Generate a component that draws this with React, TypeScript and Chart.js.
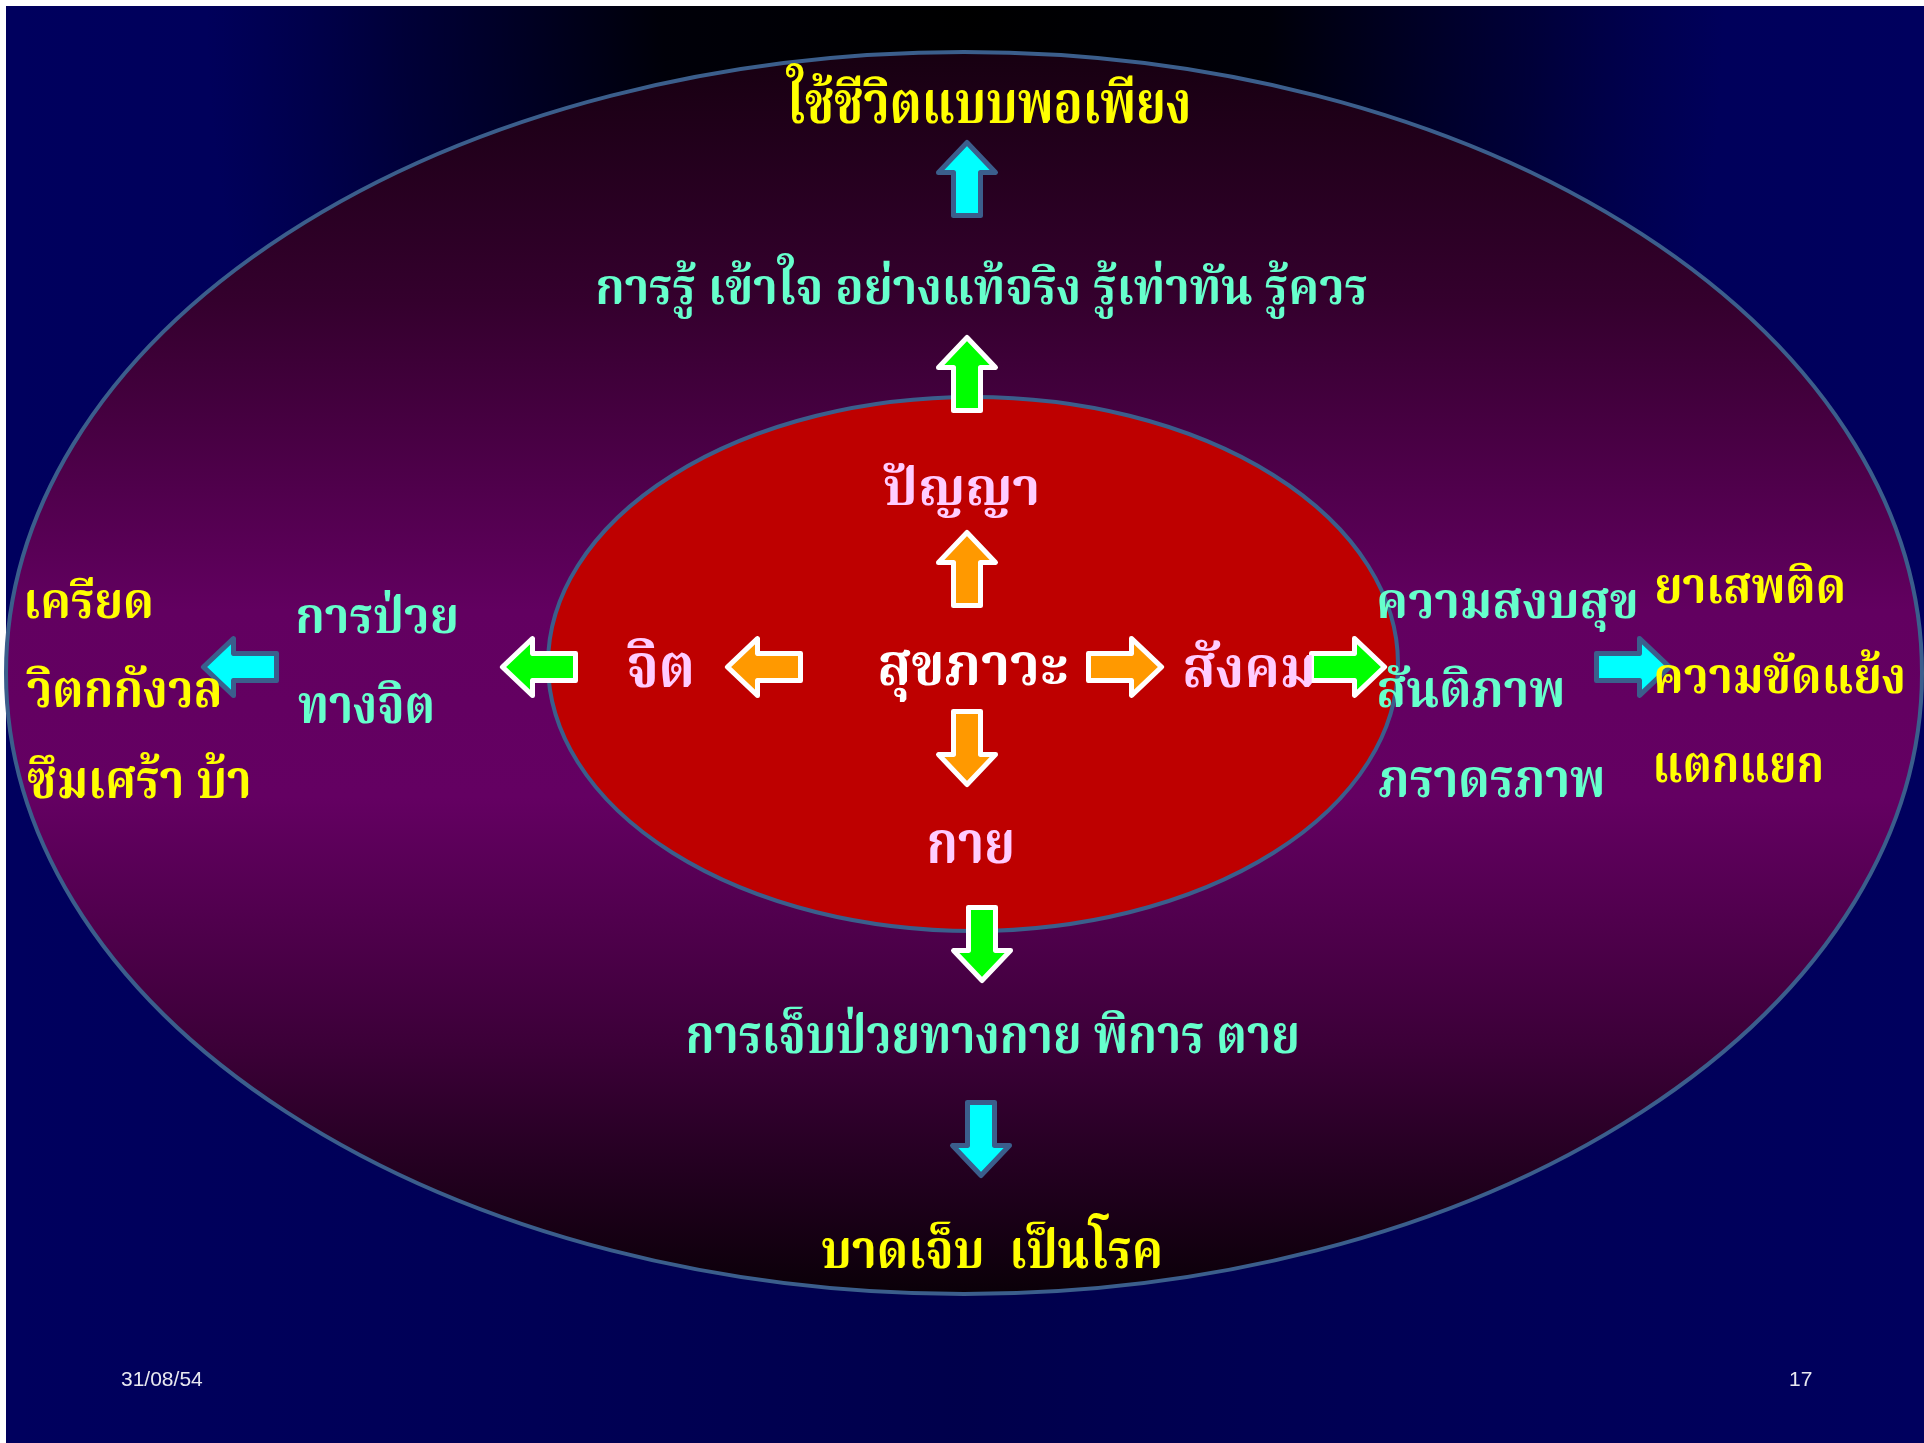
import { useEffect, useRef } from "react";
import { Chart, registerables } from "chart.js";

Chart.register(...registerables);

// ---- diagram space (slide units) ----
const SPACE_W = 1924;
const SPACE_H = 1443;
const slideLeft = 6;
const slideTop = 6;

// ---- ellipses: outer ring, inner core ----
const ellipseCX = [964, 973];
const ellipseCY = [673, 664];
const ellipseRX = [958, 425];
const ellipseRY = [621, 267];

// ---- arrows ----
const cyanArrowX = [967, 240, 1633, 981];
const cyanArrowY = [179, 667, 667, 1139];
const cyanArrowRot = [0, 270, 90, 180];

const greenArrowX = [967, 539, 1348, 982];
const greenArrowY = [374, 667, 667, 944];
const greenArrowRot = [0, 270, 90, 180];

const orangeArrowX = [967, 764, 1125, 967];
const orangeArrowY = [569, 667, 667, 748];
const orangeArrowRot = [0, 270, 90, 180];

// ---- labels ----
const labelTexts = [
  "ใช้ชีวิตแบบพอเพียง",
  "การรู้ เข้าใจ อย่างแท้จริง รู้เท่าทัน รู้ควร",
  "ปัญญา",
  "สุขภาวะ",
  "จิต",
  "สังคม",
  "กาย",
  "การเจ็บป่วยทางกาย พิการ ตาย",
  "บาดเจ็บ  เป็นโรค",
  "การป่วย",
  "ทางจิต",
  "เครียด",
  "วิตกกังวล",
  "ซึมเศร้า บ้า",
  "ความสงบสุข",
  "สันติภาพ",
  "ภราดรภาพ",
  "ยาเสพติด",
  "ความขัดแย้ง",
  "แตกแยก",
];
const labelLeft = [786, 598, 883, 880, 627, 1185, 929, 688, 822, 298, 298, 27, 26, 28, 1379, 1379, 1379, 1656, 1656, 1656];
const labelRight = [1188, 1367, 1037, 1067, 691, 1312, 1012, 1297, 1160, 456, 432, 151, 219, 249, 1636, 1562, 1602, 1843, 1903, 1821];
const labelTop = [90, 276, 476, 652, 653, 655, 830, 1023, 1238, 605, 693, 590, 678, 768, 590, 678, 767, 575, 665, 753];
const labelBase = [123, 304, 505, 685, 687, 687, 863, 1053, 1268, 633, 723, 618, 707, 798, 618, 707, 797, 603, 693, 782];
const labelTone = ["yellow", "aqua", "pink", "white", "pink", "pink", "pink", "aqua", "yellow", "aqua", "aqua", "yellow", "yellow", "yellow", "aqua", "aqua", "aqua", "yellow", "yellow", "yellow"];

const footerTexts = ["31/08/54", "17"];
const footerLeft = [121, 1789];
const footerBase = [1386, 1386];

const TONE: Record<string, string> = {
  yellow: "#FFFF00",
  aqua: "#66FFCC",
  pink: "#FFCCFF",
  white: "#FFFFFF",
};

const THAI_FONT = '"Noto Serif Thai", "Kinnari", "Norasi", "Noto Sans Thai", "Loma", "Garuda", serif';

function makeArrow(fill: string, stroke: string): HTMLCanvasElement {
  const c = document.createElement("canvas");
  const W = 72, H = 86;
  c.width = W;
  c.height = H;
  const ctx = c.getContext("2d")!;
  const cx = W / 2;
  const headW = 57, shaftW = 27, totalH = 73, headH = 30;
  const top = (H - totalH) / 2;
  const bot = top + totalH;
  ctx.beginPath();
  ctx.moveTo(cx, top);
  ctx.lineTo(cx + headW / 2, top + headH);
  ctx.lineTo(cx + shaftW / 2, top + headH);
  ctx.lineTo(cx + shaftW / 2, bot);
  ctx.lineTo(cx - shaftW / 2, bot);
  ctx.lineTo(cx - shaftW / 2, top + headH);
  ctx.lineTo(cx - headW / 2, top + headH);
  ctx.closePath();
  ctx.fillStyle = fill;
  ctx.fill();
  ctx.lineJoin = "round";
  ctx.lineWidth = 5;
  ctx.strokeStyle = stroke;
  ctx.stroke();
  return c;
}

const backgroundPlugin = {
  id: "slideBackground",
  beforeDatasetsDraw(chart: any) {
    const { ctx, scales } = chart;
    const xs = scales.x, ys = scales.y;
    const px = (v: number) => xs.getPixelForValue(v);
    const py = (v: number) => ys.getPixelForValue(v);
    ctx.save();
    // slide base
    const L = px(slideLeft), T = py(slideTop), R = px(SPACE_W), B = py(SPACE_H);
    ctx.fillStyle = "#00005E";
    ctx.fillRect(L, T, R - L, B - T);
    // horizontal shading: darker towards center
    const hg = ctx.createLinearGradient(L, 0, R, 0);
    hg.addColorStop(0, "rgba(0,0,40,0)");
    hg.addColorStop(0.5, "rgba(0,0,20,0.25)");
    hg.addColorStop(1, "rgba(0,0,40,0)");
    ctx.fillStyle = hg;
    ctx.fillRect(L, T, R - L, B - T);
    // dark glow at top center
    ctx.save();
    ctx.beginPath();
    ctx.rect(L, T, R - L, B - T);
    ctx.clip();
    ctx.translate(px(965), py(0));
    ctx.scale(1, 1.25);
    const rg = ctx.createRadialGradient(0, 0, 0, 0, 0, 760);
    rg.addColorStop(0, "rgba(0,0,0,1)");
    rg.addColorStop(0.4, "rgba(0,0,5,0.95)");
    rg.addColorStop(0.75, "rgba(0,0,20,0.45)");
    rg.addColorStop(1, "rgba(0,0,40,0)");
    ctx.fillStyle = rg;
    ctx.fillRect(-1000, -100, 2000, 1400);
    ctx.restore();

    // outer ellipse
    const ocx = px(ellipseCX[0]), ocy = py(ellipseCY[0]);
    const orx = px(ellipseCX[0] + ellipseRX[0]) - ocx;
    const ory = py(ellipseCY[0] + ellipseRY[0]) - ocy;
    const og = ctx.createLinearGradient(0, ocy - ory, 0, ocy + ory);
    og.addColorStop(0, "#170011");
    og.addColorStop(0.2, "#34002d");
    og.addColorStop(0.45, "#620060");
    og.addColorStop(0.6, "#640062");
    og.addColorStop(0.8, "#3c0038");
    og.addColorStop(1, "#0a0008");
    ctx.beginPath();
    ctx.ellipse(ocx, ocy, orx, ory, 0, 0, Math.PI * 2);
    ctx.fillStyle = og;
    ctx.fill();
    ctx.lineWidth = 4;
    ctx.strokeStyle = "#3B5E8C";
    ctx.stroke();

    // inner ellipse
    const icx = px(ellipseCX[1]), icy = py(ellipseCY[1]);
    const irx = px(ellipseCX[1] + ellipseRX[1]) - icx;
    const iry = py(ellipseCY[1] + ellipseRY[1]) - icy;
    ctx.beginPath();
    ctx.ellipse(icx, icy, irx, iry, 0, 0, Math.PI * 2);
    ctx.fillStyle = "#BE0000";
    ctx.fill();
    ctx.lineWidth = 4;
    ctx.strokeStyle = "#3B5E8C";
    ctx.stroke();
    ctx.restore();
  },
};

const labelPlugin = {
  id: "diagramLabels",
  afterDatasetsDraw(chart: any) {
    const { ctx, scales } = chart;
    const xs = scales.x, ys = scales.y;
    ctx.save();
    ctx.textBaseline = "alphabetic";
    ctx.textAlign = "left";
    // calibrate x-height of the Thai font
    ctx.font = `bold 100px ${THAI_FONT}`;
    const probe = ctx.measureText("ก");
    const ratio = Math.max(0.2, (probe.actualBoundingBoxAscent || 50) / 100);
    labelTexts.forEach((txt, i) => {
      const left = xs.getPixelForValue(labelLeft[i]);
      const right = xs.getPixelForValue(labelRight[i]);
      const top = ys.getPixelForValue(labelTop[i]);
      const base = ys.getPixelForValue(labelBase[i]);
      const size = (base - top) / ratio;
      ctx.font = `bold ${size.toFixed(1)}px ${THAI_FONT}`;
      const m = ctx.measureText(txt);
      const inkL = m.actualBoundingBoxLeft || 0;
      const inkW = (m.actualBoundingBoxRight || m.width) + inkL;
      const sx = (right - left) / inkW;
      ctx.save();
      ctx.translate(left + inkL * sx, base);
      ctx.scale(sx, 1);
      ctx.fillStyle = TONE[labelTone[i]];
      ctx.fillText(txt, 0, 0);
      ctx.restore();
    });
    ctx.font = '21px "Liberation Sans Narrow", "Liberation Sans", sans-serif';
    ctx.fillStyle = "#E8E8F0";
    footerTexts.forEach((t, i) => {
      ctx.fillText(t, xs.getPixelForValue(footerLeft[i]), ys.getPixelForValue(footerBase[i]));
    });
    ctx.restore();
  },
};

function toPoints(xsArr: number[], ysArr: number[]) {
  return xsArr.map((x, i) => ({ x, y: ysArr[i] }));
}

export default function App() {
  const ref = useRef<HTMLCanvasElement | null>(null);
  useEffect(() => {
    if (!ref.current) return;
    const cyan = makeArrow("#00FFFF", "#3B5E8C");
    const green = makeArrow("#00FF00", "#FFFFFF");
    const orange = makeArrow("#FF9900", "#FFFFFF");
    const chart = new Chart(ref.current, {
      type: "scatter",
      data: {
        datasets: [
          { label: "cyan", data: toPoints(cyanArrowX, cyanArrowY), pointStyle: cyan as any, pointRotation: cyanArrowRot as any },
          { label: "green", data: toPoints(greenArrowX, greenArrowY), pointStyle: green as any, pointRotation: greenArrowRot as any },
          { label: "orange", data: toPoints(orangeArrowX, orangeArrowY), pointStyle: orange as any, pointRotation: orangeArrowRot as any },
        ],
      },
      options: {
        responsive: false,
        maintainAspectRatio: false,
        animation: false,
        events: [],
        layout: { padding: 0, autoPadding: false },
        plugins: { legend: { display: false }, tooltip: { enabled: false } },
        scales: {
          x: { type: "linear", min: 0, max: SPACE_W, display: false },
          y: { type: "linear", min: 0, max: SPACE_H, reverse: true, display: false },
        },
      },
      plugins: [backgroundPlugin, labelPlugin],
    });
    return () => chart.destroy();
  }, []);
  return (
    <div style={{ position: "absolute", left: 0, top: 0, width: SPACE_W, height: SPACE_H, background: "#FFFFFF" }}>
      <canvas ref={ref} width={SPACE_W} height={SPACE_H} style={{ display: "block" }} />
    </div>
  );
}
